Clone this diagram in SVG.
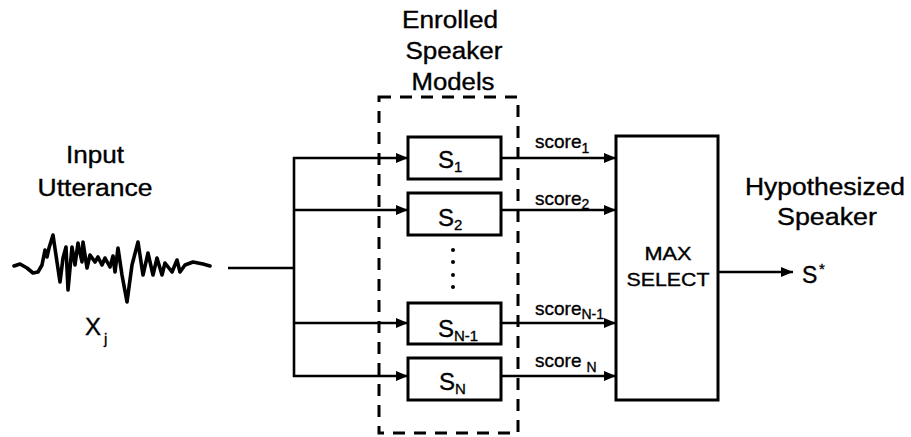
<svg xmlns="http://www.w3.org/2000/svg" width="911" height="437" viewBox="0 0 911 437">
<style>
text{font-family:"Liberation Sans",Arial,sans-serif;fill:#000;stroke:#000;stroke-width:0.35}
.t{font-size:23px;text-anchor:middle}
.box{fill:#fff;stroke:#000;stroke-width:3}
.ln{fill:none;stroke:#000;stroke-width:2.6}
.s{font-size:24px}
.sub{font-size:15px}
.sc{font-size:19px}
.scs{font-size:14px}
</style>
<defs>
<marker id="ah" markerWidth="14" markerHeight="12" refX="12" refY="5.5" orient="auto" markerUnits="userSpaceOnUse">
<path d="M0,0.5 L12,5.5 L0,10.5 Z" fill="#000"/>
</marker>
</defs>
<rect width="911" height="437" fill="#fff"/>

<g id="input-label">
<text class="t" x="95" y="163" textLength="58" lengthAdjust="spacingAndGlyphs">Input</text>
<text class="t" x="95" y="196" textLength="115" lengthAdjust="spacingAndGlyphs">Utterance</text>
</g>

<g id="waveform">
<polyline fill="none" stroke="#000" stroke-width="3.6" stroke-linejoin="round" stroke-linecap="round" points="14,266 20,264 27,268 33,273 38,272 42,265 45,250 47,257 49,248 53,235 57,262 60,282 63,258 66,247 68,290 72,247 75,265 78,243 82,262 83,242 87,268 90,255 95,262 98,257 102,265 105,258 110,267 113,256 115,272 118,248 122,275 127,302 132,265 138,242 143,275 148,253 153,275 157,258 162,275 165,263 172,272 177,260 180,272 185,265 193,262 203,264 210,266"/>
<text x="85" y="335" style="font-size:23px" textLength="16" lengthAdjust="spacingAndGlyphs">X</text>
<text x="104" y="344" class="sub">j</text>
</g>

<g id="enrolled-label">
<text class="t" x="450" y="28" textLength="96" lengthAdjust="spacingAndGlyphs">Enrolled</text>
<text class="t" x="454" y="59" textLength="97" lengthAdjust="spacingAndGlyphs">Speaker</text>
<text class="t" x="453" y="90" textLength="83" lengthAdjust="spacingAndGlyphs">Models</text>
</g>

<g id="enrolled-group">
<rect x="379" y="97" width="139" height="336" fill="none" stroke="#000" stroke-width="3" stroke-dasharray="12 9"/>
</g>

<g id="connectors">
<line class="ln" x1="228" y1="268" x2="294" y2="268"/>
<line class="ln" x1="294" y1="157" x2="294" y2="377"/>
<line class="ln" x1="293" y1="158" x2="408" y2="158" marker-end="url(#ah)"/>
<line class="ln" x1="294" y1="210" x2="408" y2="210" marker-end="url(#ah)"/>
<line class="ln" x1="294" y1="323" x2="408" y2="323" marker-end="url(#ah)"/>
<line class="ln" x1="293" y1="376" x2="408" y2="376" marker-end="url(#ah)"/>
<line class="ln" x1="501" y1="158" x2="616" y2="158" marker-end="url(#ah)"/>
<line class="ln" x1="501" y1="210" x2="616" y2="210" marker-end="url(#ah)"/>
<line class="ln" x1="501" y1="323" x2="616" y2="323" marker-end="url(#ah)"/>
<line class="ln" x1="501" y1="376" x2="616" y2="376" marker-end="url(#ah)"/>
<line class="ln" x1="718" y1="272" x2="793" y2="272" marker-end="url(#ah)"/>
</g>

<g id="s1">
<rect class="box" x="408" y="137" width="93" height="42"/>
<text class="s" x="438" y="168">S<tspan class="sub" dy="4">1</tspan></text>
</g>
<g id="s2">
<rect class="box" x="408" y="193" width="93" height="42"/>
<text class="s" x="438" y="226">S<tspan class="sub" dy="4">2</tspan></text>
</g>
<g id="dots">
<circle cx="453" cy="250" r="2"/>
<circle cx="453" cy="262" r="2"/>
<circle cx="453" cy="275" r="2"/>
<circle cx="453" cy="287" r="2"/>
</g>
<g id="sn1">
<rect class="box" x="408" y="303" width="93" height="41"/>
<text class="s" x="438" y="337">S<tspan class="sub" dy="4">N-1</tspan></text>
</g>
<g id="sn">
<rect class="box" x="408" y="358" width="93" height="42"/>
<text class="s" x="439" y="390">S<tspan class="sub" dy="4">N</tspan></text>
</g>

<g id="scores">
<text class="sc" x="535" y="148">score<tspan class="scs" dy="5">1</tspan></text>
<text class="sc" x="535" y="205">score<tspan class="scs" dy="4">2</tspan></text>
<text class="sc" x="535" y="315">score<tspan class="scs" dy="4">N-1</tspan></text>
<text class="sc" x="535" y="367">score<tspan class="scs" dx="5" dy="5">N</tspan></text>
</g>

<g id="max-select">
<rect class="box" x="616" y="136" width="102" height="264"/>
<text x="668" y="260" style="font-size:18px;text-anchor:middle" textLength="47" lengthAdjust="spacingAndGlyphs">MAX</text>
<text x="668" y="286" style="font-size:18px;text-anchor:middle" textLength="83" lengthAdjust="spacingAndGlyphs">SELECT</text>
</g>

<g id="output">
<text class="t" x="825" y="195" textLength="160" lengthAdjust="spacingAndGlyphs">Hypothesized</text>
<text class="t" x="827" y="225" textLength="100" lengthAdjust="spacingAndGlyphs">Speaker</text>
<text x="802" y="283" style="font-size:23px">S</text>
<text x="819" y="274" style="font-size:15px">*</text>
</g>
</svg>
